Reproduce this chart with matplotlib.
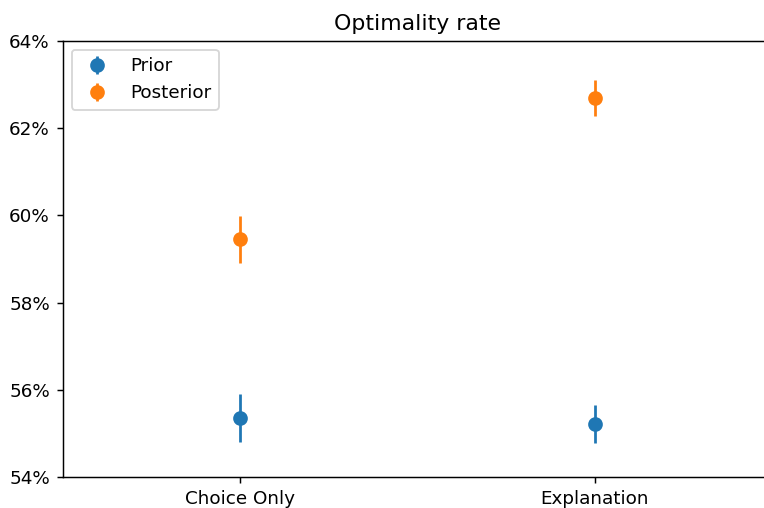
import matplotlib
matplotlib.use("Agg")
import matplotlib.pyplot as plt
from matplotlib.ticker import PercentFormatter

# condition labels on the x axis
conditions = ["Choice Only", "Explanation"]

# optimality rate in percent, with error bar half-widths
prior_rate = [55.36, 55.22]
prior_err = [0.54, 0.43]
posterior_rate = [59.45, 62.69]
posterior_err = [0.54, 0.42]

DPI = 132


def main():
    fig, ax = plt.subplots(figsize=(764 / DPI, 508 / DPI), dpi=DPI)
    # the original was cropped on the right, so the axes runs past the edge
    fig.subplots_adjust(left=0.082, right=1.0105, top=0.92, bottom=0.0604)

    x = list(range(len(conditions)))
    ax.errorbar(x, prior_rate, yerr=prior_err, fmt="o", color="C0",
                markersize=7, label="Prior")
    ax.errorbar(x, posterior_rate, yerr=posterior_err, fmt="o", color="C1",
                markersize=7, label="Posterior")

    ax.set_xticks(x)
    ax.set_xticklabels(conditions)
    ax.set_xlim(-0.5, 1.5)
    ax.set_ylim(54, 64)
    ax.set_yticks([54, 56, 58, 60, 62, 64])
    ax.yaxis.set_major_formatter(PercentFormatter(100, decimals=0))
    ax.set_title("Optimality rate")
    ax.legend(loc="upper left")

    fig.savefig("out.png")


if __name__ == "__main__":
    main()
